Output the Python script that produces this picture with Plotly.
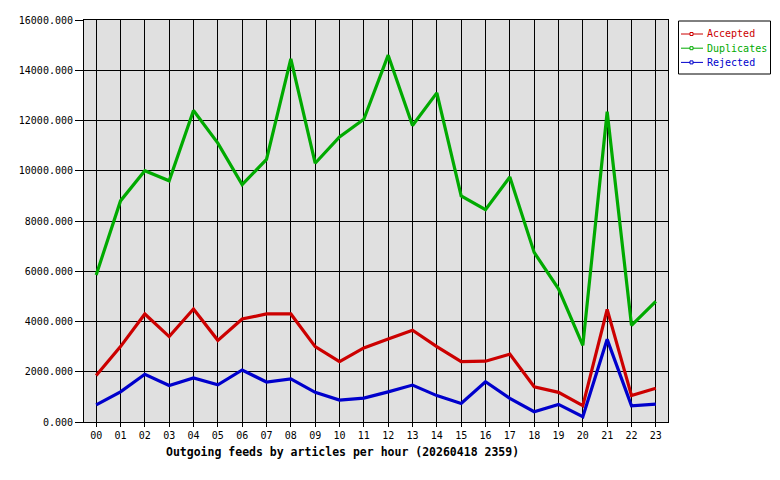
import plotly.graph_objects as go

hours = ["%02d" % h for h in range(24)]
accepted = [1850, 3000, 4300, 3400, 4500, 3250, 4100, 4300, 4300, 3000, 2400, 2950,
            3300, 3650, 3000, 2400, 2420, 2700, 1400, 1180, 650, 4480, 1050, 1340]
duplicates = [5850, 8800, 10000, 9600, 12400, 11100, 9450, 10450, 14450, 10300, 11350, 12050,
              14600, 11800, 13100, 9000, 8450, 9750, 6750, 5300, 3050, 12350, 3850, 4800]
rejected = [680, 1200, 1900, 1450, 1750, 1480, 2070, 1590, 1720, 1180, 870, 950,
            1200, 1470, 1050, 740, 1600, 940, 410, 700, 210, 3290, 640, 710]
series_names = ["Accepted", "Duplicates", "Rejected"]
series_colors = ["#cc0000", "#00aa00", "#0000cc"]
title_text = "Outgoing feeds by articles per hour (20260418 2359)"

FONT = "DejaVu Sans Mono"

# plot area in pixels
L, R, T, B = 84, 668, 20, 422
W, H = R - L, B - T


def px(x):
    return (x - L) / W


def py(y):
    return (B - y) / H


fig = go.Figure()
for name, vals, col in zip(series_names, [accepted, duplicates, rejected], series_colors):
    fig.add_trace(go.Scatter(
        x=hours, y=vals, mode="lines", name=name,
        line=dict(color=col, width=3.2),
        hoverinfo="x+y", showlegend=False,
    ))

shapes = []
annotations = []
# custom legend box
shapes.append(dict(type="rect", xref="paper", yref="paper",
                   x0=px(678.5), x1=px(770.5), y0=py(74), y1=py(21),
                   line=dict(color="black", width=1), fillcolor="white", layer="above"))
for i, (name, col) in enumerate(zip(series_names, series_colors)):
    yy = 34 + i * 14.2
    shapes.append(dict(type="line", xref="paper", yref="paper",
                       x0=px(681), x1=px(703), y0=py(yy), y1=py(yy),
                       line=dict(color=col, width=1), layer="above"))
    shapes.append(dict(type="rect", xref="paper", yref="paper",
                       x0=px(690), x1=px(693), y0=py(yy + 1.5), y1=py(yy - 1.5),
                       line=dict(color=col, width=1), fillcolor="white", layer="above"))
    annotations.append(dict(text=name, xref="paper", yref="paper",
                            x=px(705), y=py(yy), xanchor="left", yanchor="middle",
                            showarrow=False, font=dict(family=FONT, size=10, color=col)))

annotations.append(dict(
    text="<b>%s</b>" % title_text, xref="paper", yref="paper",
    x=px(342.5), y=py(452), xanchor="center", yanchor="middle",
    showarrow=False, font=dict(family=FONT, size=11.5, color="black"),
))

fig.update_layout(
    width=780, height=480,
    margin=dict(l=L, r=780 - R, t=T, b=480 - B, autoexpand=False),
    paper_bgcolor="white",
    plot_bgcolor="#e0e0e0",
    font=dict(family=FONT, size=10, color="black"),
    showlegend=False,
    shapes=shapes,
    annotations=annotations,
)
fig.update_xaxes(
    type="category", range=[-0.5, 23.5],
    showgrid=True, gridcolor="black", gridwidth=1,
    showline=True, linecolor="black", linewidth=1, mirror=True,
    ticks="outside", ticklen=4, tickcolor="black",
    zeroline=False, fixedrange=True,
)
fig.update_yaxes(
    range=[0, 16000], dtick=2000, tick0=0, tickformat=".3f",
    showgrid=True, gridcolor="black", gridwidth=1,
    showline=True, linecolor="black", linewidth=1, mirror=True,
    ticks="outside", ticklen=8, tickcolor="black",
    zeroline=False, fixedrange=True,
)

fig.write_html("out.html")
